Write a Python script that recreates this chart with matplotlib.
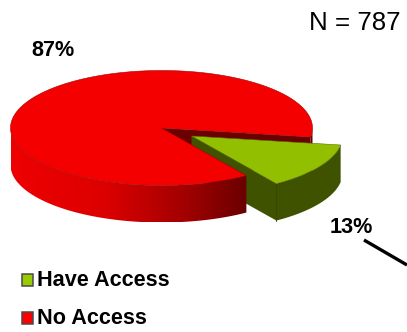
import numpy as np
import matplotlib
matplotlib.use("Agg")
import matplotlib.pyplot as plt
from matplotlib.patches import Polygon, Rectangle
from matplotlib.colors import LinearSegmentedColormap

categories = ["Have Access", "No Access"]
values = [13, 87]
pct_labels = ["13%", "87%"]
note = "N = 787"

W, H = 407, 332
CX, CY, RX, RY, D = 161.5, 128, 151, 57.5, 37
START = -9.0
OFF = (30, 8)
GREEN_TOP, GREEN_SIDE, GREEN_KEY = "#92C000", "#3F5200", "#99CC00"
RED_TOP, RED_DARK, RED_KEY = "#F50000", "#6A0000", "#FF0000"

plt.rcParams["font.family"] = ["Liberation Sans", "DejaVu Sans"]
fig = plt.figure(figsize=(W / 100, H / 100), dpi=100)
ax = fig.add_axes([0, 0, 1, 1])
ax.set_xlim(0, W)
ax.set_ylim(H, 0)
ax.axis("off")

def rim(a0, a1, cx=CX, cy=CY):
    t = np.radians(np.linspace(a0, a1, 160))
    return np.column_stack([cx + RX * np.cos(t), cy - RY * np.sin(t)])

sweep = 360 * values[0] / sum(values)
g0, g1 = START - sweep, START
down = np.array([0, D])
c = np.array([CX, CY])

# Inner cut wall of the red body, seen through the gap
right = rim(g1, 0)
ax.add_patch(Polygon(np.vstack([right, (right + down)[::-1]]), fc=RED_DARK, ec="none", zorder=1))
p = rim(g1, g1)[0]
ax.add_patch(Polygon([c, p, p + down, c + down], fc=RED_DARK, ec="none", zorder=1))

# Green slice walls sit behind the red body
oc = c + OFF
g_rim = rim(g0, g1, *oc)
a = g_rim[0]
ax.add_patch(Polygon(np.vstack([g_rim, (g_rim + down)[::-1]]), fc=GREEN_SIDE, ec="none", zorder=2))
ax.add_patch(Polygon([oc, a, a + down, oc + down], fc=GREEN_SIDE, ec="none", zorder=2))
ax.plot([a[0], a[0]], [a[1], a[1] + D], color="#2F3D00", lw=0.6, zorder=2.5)

# Red side wall with gradient
red_front = rim(180, 360 + g0)
side = np.vstack([red_front, (red_front + down)[::-1]])
cmap = LinearSegmentedColormap.from_list(
    "side", [(0, "#EE0000"), (0.4, "#DC0000"), (0.75, "#A00000"), (1, RED_DARK)])
im = ax.imshow(np.linspace(0, 1, 256)[None, :], cmap=cmap, aspect="auto",
               extent=[CX - RX, red_front[-1, 0], CY + RY + D, CY - 5], zorder=3)
clip = Polygon(side, transform=ax.transData, fc="none", ec="none")
ax.add_patch(clip)
im.set_clip_path(clip)
ax.set_xlim(0, W)
ax.set_ylim(H, 0)

# Red top face
ax.add_patch(Polygon(np.vstack([[c], rim(g1, g0 + 360)]), fc=RED_TOP, ec="#A00000", lw=0.4, zorder=4))

# Green top face
ax.add_patch(Polygon(np.vstack([[oc], g_rim]), fc=GREEN_TOP, ec="#5A7000", lw=0.4, zorder=5))

# Text
ax.text(355, 23, note, fontsize=18.6, ha="center", va="center", color="black")
ax.text(53, 51, pct_labels[1], fontsize=15.6, fontweight="bold", ha="center", va="center")
ax.text(351.5, 227.5, pct_labels[0], fontsize=15.6, fontweight="bold", ha="center", va="center")
ax.plot([364, 407], [240, 265], color="black", lw=2.4, solid_capstyle="butt", zorder=6)

# Legend
for y, lab, col in zip([280, 318], categories, [GREEN_KEY, RED_KEY]):
    ax.add_patch(Rectangle((21.5, y - 6.5), 11, 12.5, fc=col, ec="#4A4A4A", lw=1.1, zorder=6))
    ax.text(37, y, lab, fontsize=15.6, fontweight="bold", ha="left", va="center")

fig.savefig("out.png", dpi=100)
